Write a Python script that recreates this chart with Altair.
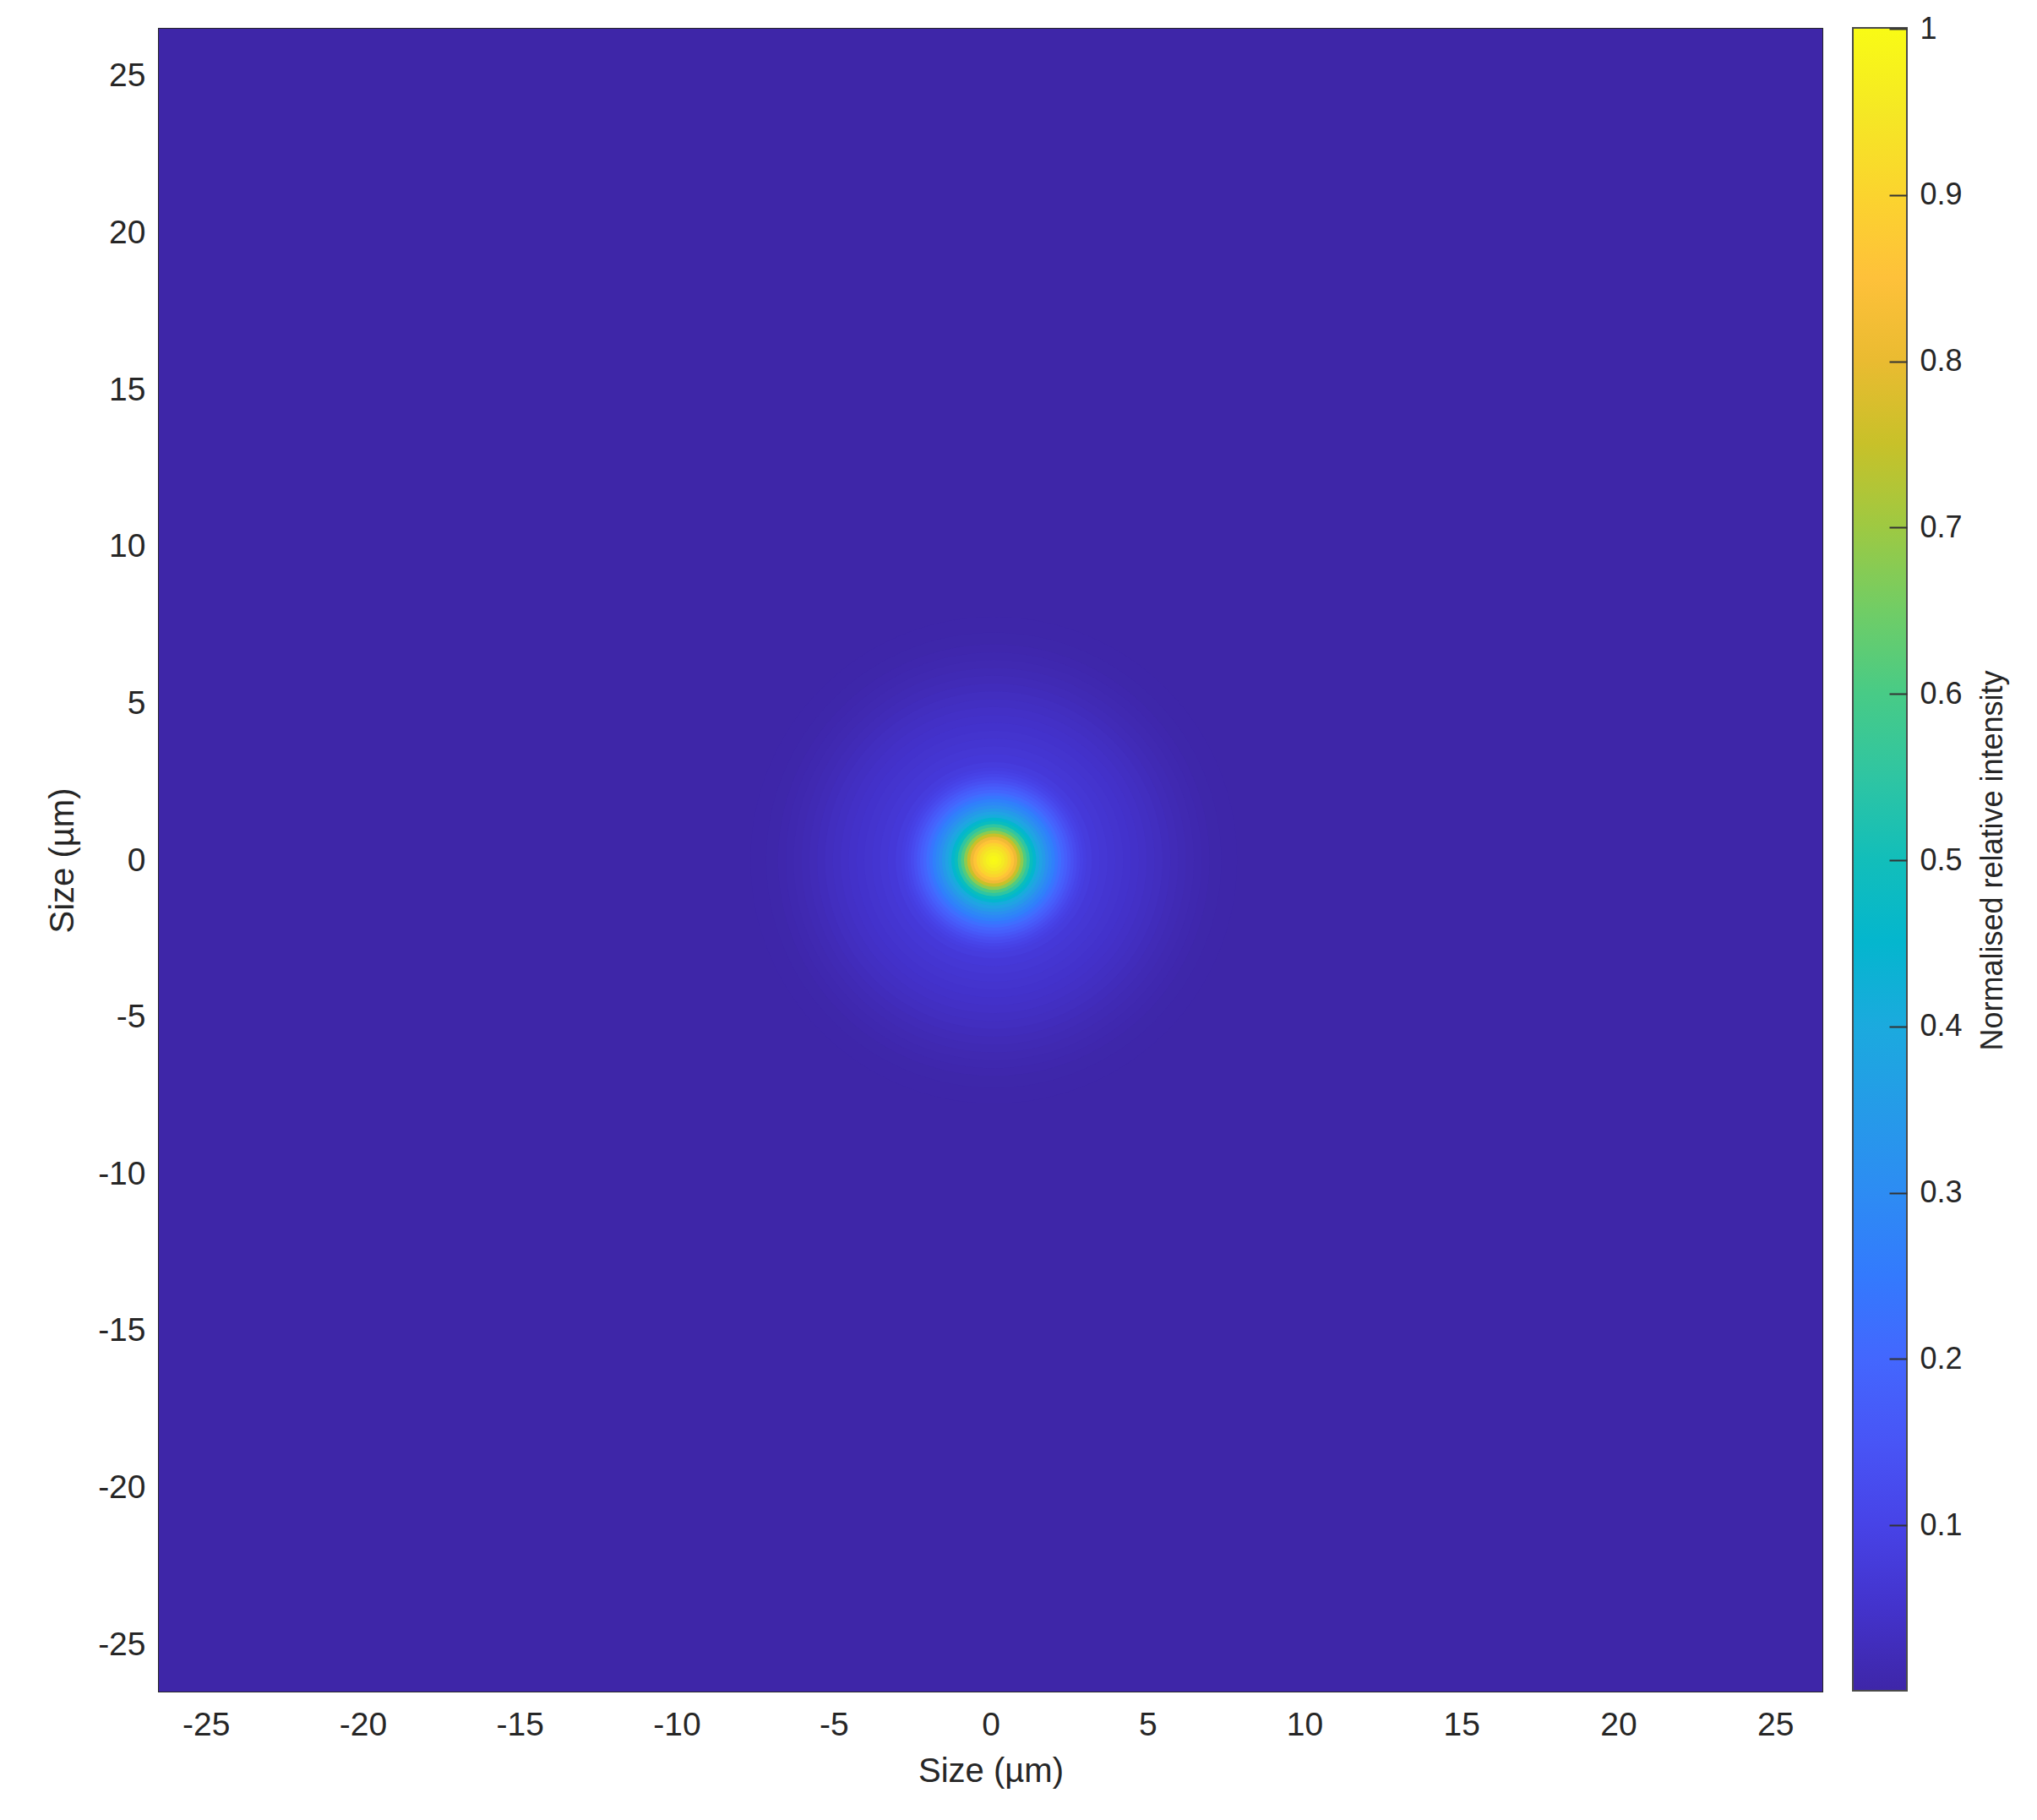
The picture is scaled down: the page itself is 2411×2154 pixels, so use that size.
import altair as alt
import pandas as pd

# ---------------- data ----------------
x_ticks = [-25, -20, -15, -10, -5, 0, 5, 10, 15, 20, 25]
y_ticks = [-25, -20, -15, -10, -5, 0, 5, 10, 15, 20, 25]
cbar_ticks = [0.1, 0.2, 0.3, 0.4, 0.5, 0.6, 0.7, 0.8, 0.9, 1]
axis_extent = [-26.5, 26.5]          # µm, both axes
spot_center_x = [0.1]
spot_center_y = [0.0]
background_intensity = [0.0]

# radial intensity profile of the spot (radius in µm -> normalised intensity)
radius_um = [0.0, 0.1, 0.2, 0.3, 0.4, 0.5, 0.6, 0.7, 0.8, 0.9,
             1.0, 1.1, 1.2, 1.3, 1.4, 1.5, 1.6, 1.7, 1.8, 1.9,
             2.0, 2.1, 2.2, 2.3, 2.4, 2.5, 2.6, 2.7, 2.8, 2.9,
             3.0, 3.25, 3.5, 3.75, 4.0, 4.25, 4.5, 4.75, 5.0, 5.25,
             5.5, 5.75, 6.0, 6.25, 6.5, 6.75, 7.0, 7.5]
intensity = [1.00, 0.99, 0.975, 0.955, 0.93, 0.90, 0.86, 0.81, 0.75, 0.68,
             0.61, 0.55, 0.49, 0.45, 0.41, 0.375, 0.345, 0.315, 0.29, 0.265,
             0.24, 0.22, 0.195, 0.175, 0.155, 0.135, 0.12, 0.105, 0.095, 0.087,
             0.078, 0.068, 0.062, 0.057, 0.053, 0.049, 0.045, 0.040, 0.035, 0.030,
             0.025, 0.020, 0.016, 0.012, 0.009, 0.006, 0.003, 0.001]

# ---------------- styling ----------------
PARULA = [
    (0.2422, 0.1504, 0.6603), (0.2504, 0.1650, 0.7076), (0.2578, 0.1818, 0.7511), (0.2647, 0.1978, 0.7952),
    (0.2706, 0.2147, 0.8364), (0.2751, 0.2342, 0.8710), (0.2783, 0.2559, 0.8991), (0.2803, 0.2782, 0.9221),
    (0.2813, 0.3006, 0.9414), (0.2810, 0.3228, 0.9579), (0.2795, 0.3447, 0.9717), (0.2760, 0.3667, 0.9829),
    (0.2699, 0.3892, 0.9906), (0.2602, 0.4123, 0.9952), (0.2440, 0.4358, 0.9988), (0.2206, 0.4603, 0.9973),
    (0.1963, 0.4847, 0.9892), (0.1834, 0.5074, 0.9798), (0.1786, 0.5289, 0.9682), (0.1764, 0.5499, 0.9520),
    (0.1687, 0.5703, 0.9359), (0.1540, 0.5902, 0.9218), (0.1460, 0.6091, 0.9079), (0.1380, 0.6276, 0.8973),
    (0.1248, 0.6459, 0.8883), (0.1113, 0.6635, 0.8763), (0.0952, 0.6798, 0.8598), (0.0689, 0.6948, 0.8394),
    (0.0297, 0.7082, 0.8163), (0.0036, 0.7203, 0.7917), (0.0067, 0.7312, 0.7660), (0.0433, 0.7411, 0.7394),
    (0.0964, 0.7500, 0.7120), (0.1408, 0.7584, 0.6842), (0.1717, 0.7670, 0.6554), (0.1938, 0.7758, 0.6251),
    (0.2161, 0.7843, 0.5923), (0.2470, 0.7918, 0.5567), (0.2906, 0.7973, 0.5188), (0.3406, 0.8008, 0.4789),
    (0.3909, 0.8029, 0.4354), (0.4456, 0.8024, 0.3909), (0.5044, 0.7993, 0.3480), (0.5616, 0.7942, 0.3045),
    (0.6174, 0.7876, 0.2612), (0.6720, 0.7793, 0.2227), (0.7242, 0.7698, 0.1910), (0.7738, 0.7598, 0.1646),
    (0.8203, 0.7498, 0.1535), (0.8634, 0.7406, 0.1596), (0.9035, 0.7330, 0.1774), (0.9393, 0.7288, 0.2100),
    (0.9728, 0.7298, 0.2394), (0.9956, 0.7434, 0.2371), (0.9970, 0.7659, 0.2199), (0.9952, 0.7893, 0.2028),
    (0.9892, 0.8136, 0.1885), (0.9786, 0.8386, 0.1766), (0.9676, 0.8639, 0.1643), (0.9610, 0.8890, 0.1537),
    (0.9597, 0.9135, 0.1423), (0.9628, 0.9373, 0.1265), (0.9691, 0.9606, 0.1064), (0.9769, 0.9839, 0.0805),
]
parula_hex = ["#%02x%02x%02x" % tuple(int(round(c * 255)) for c in rgb) for rgb in PARULA]
parula_domain = [i / (len(parula_hex) - 1) for i in range(len(parula_hex))]

W, H = 1969, 1968
FONT = "Liberation Sans"
TXT = "#262626"
span = axis_extent[1] - axis_extent[0]
k = W / span  # px per µm

# ---------------- tables ----------------
edges = [(radius_um[i] + radius_um[i + 1]) / 2 for i in range(len(radius_um) - 1)] + [radius_um[-1] + 0.25]
rings = pd.DataFrame({
    "cx": spot_center_x * len(radius_um),
    "cy": spot_center_y * len(radius_um),
    "d2": [(2 * e) ** 2 for e in edges],
    "value": intensity,
})
bg = pd.DataFrame({
    "x": [axis_extent[0]], "x2": [axis_extent[1]],
    "y": [axis_extent[0]], "y2": [axis_extent[1]],
    "value": background_intensity,
})
cb = pd.DataFrame({"t": cbar_ticks})

xscale = alt.Scale(domain=axis_extent, nice=False, zero=False)
yscale = alt.Scale(domain=axis_extent, nice=False, zero=False)
cscale = alt.Scale(domain=parula_domain, range=parula_hex, type="linear")
legend = alt.Legend(orient="none", legendX=2005, legendY=-1, direction="vertical",
                    gradientLength=H, gradientThickness=64,
                    gradientStrokeColor="#4a4a4a", gradientStrokeWidth=2,
                    title=None, labelExpr="''", zindex=0)

xaxis = alt.Axis(values=x_ticks, title="Size (µm)", tickSize=0, domain=False, grid=False,
                 labelPadding=20, labelFontSize=39, labelFont=FONT, labelColor=TXT,
                 labelExpr="toString(datum.value)", labelFlush=False,
                 titleFontSize=40, titleFont=FONT, titleColor=TXT, titleFontWeight="normal",
                 titleY=94, titleBaseline="middle")
yaxis = alt.Axis(values=y_ticks, title="Size (µm)", tickSize=0, domain=False, grid=False,
                 labelPadding=16, labelFontSize=39, labelFont=FONT, labelColor=TXT,
                 labelExpr="toString(datum.value)", labelFlush=False,
                 titleFontSize=40, titleFont=FONT, titleColor=TXT, titleFontWeight="normal",
                 titleX=-114, titleAngle=270, titleBaseline="middle", titleAlign="center")

background = alt.Chart(bg).mark_rect().encode(
    x=alt.X("x:Q", scale=xscale, axis=xaxis),
    x2="x2:Q",
    y=alt.Y("y:Q", scale=yscale, axis=yaxis),
    y2="y2:Q",
    color=alt.Color("value:Q", scale=cscale, legend=legend),
)

spot = alt.Chart(rings).mark_point(filled=True, shape="circle", opacity=1, strokeWidth=0).encode(
    x=alt.X("cx:Q", scale=xscale, axis=xaxis),
    y=alt.Y("cy:Q", scale=yscale, axis=yaxis),
    size=alt.Size("d2:Q", scale=alt.Scale(type="linear", domain=[0, 400], range=[0, 400 * k * k], zero=True),
                  legend=None),
    color=alt.Color("value:Q", scale=cscale, legend=legend),
    order=alt.Order("d2:Q", sort="descending"),
)

cbar_axis = alt.Chart(cb).mark_point(opacity=0).encode(
    y=alt.Y("t:Q", scale=alt.Scale(domain=[0, 1], nice=False, zero=False),
            axis=alt.Axis(orient="right", values=cbar_ticks, offset=79, tickSize=21, tickWidth=2,
                          tickColor="#333333", domain=False, grid=False, labelPadding=15,
                          labelFontSize=36, labelFont=FONT, labelColor=TXT, labelFlush=False,
                          labelExpr="toString(datum.value)", zindex=5,
                          title="Normalised relative intensity", titleAngle=270, titleX=122,
                          titleY=H / 2, titleBaseline="middle", titleAlign="center",
                          titleFontSize=36, titleFont=FONT, titleColor=TXT, titleFontWeight="normal")),
)

chart = alt.layer(alt.layer(background, spot), cbar_axis).resolve_scale(y="independent").properties(
    width=W, height=H,
    autosize=alt.AutoSizeParams(type="none"),
    padding={"left": 180, "top": 26, "right": 246, "bottom": 144},
    background="white",
).configure_view(stroke="#262626", strokeWidth=2)

chart.save("out.html", embed_options={"renderer": "svg", "actions": False})
